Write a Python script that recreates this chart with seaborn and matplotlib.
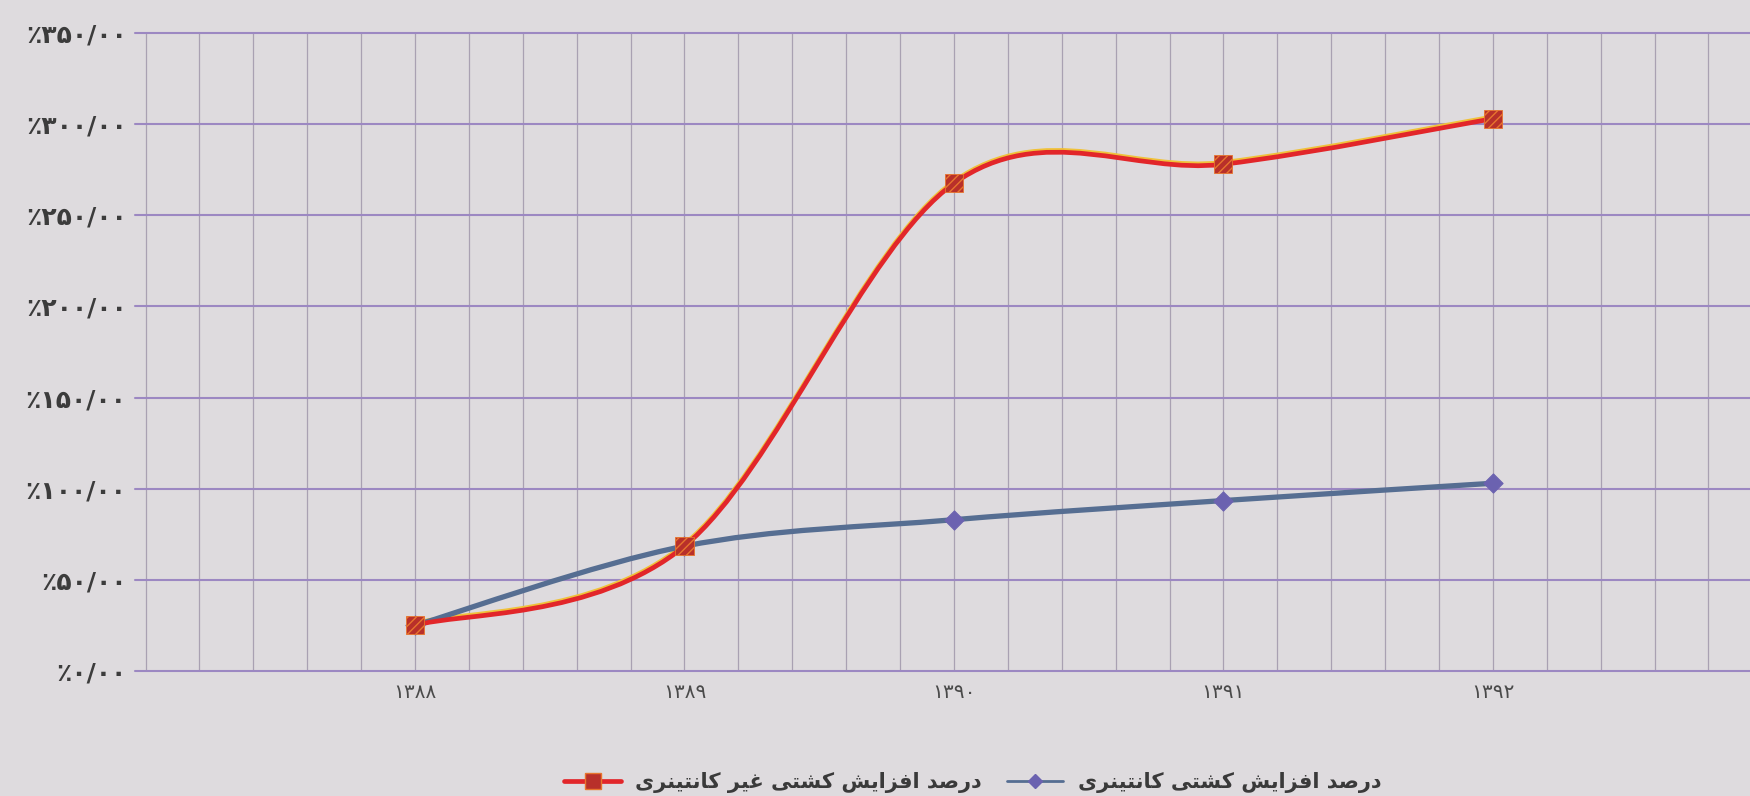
import numpy as np
import pandas as pd
import matplotlib
matplotlib.use("Agg")
import matplotlib.pyplot as plt
import seaborn as sns
from matplotlib.path import Path
from matplotlib.patches import PathPatch
from matplotlib.lines import Line2D
from matplotlib.transforms import ScaledTranslation

# ---------------- data ----------------
years = [1388, 1389, 1390, 1391, 1392]
x_tick_labels = ["۱۳۸۸", "۱۳۸۹", "۱۳۹۰", "۱۳۹۱", "۱۳۹۲"]
non_container = [25, 68.5, 267.5, 278, 303]   # red series
container = [25, 68.5, 83, 93.5, 103]          # blue series
y_ticks = [0, 50, 100, 150, 200, 250, 300, 350]
y_tick_labels = ["٪۰/۰۰", "٪۵۰/۰۰", "٪۱۰۰/۰۰", "٪۱۵۰/۰۰",
                 "٪۲۰۰/۰۰", "٪۲۵۰/۰۰", "٪۳۰۰/۰۰", "٪۳۵۰/۰۰"]
label_non_container = "درصد افزایش کشتی غیر کانتینری"
label_container = "درصد افزایش کشتی کانتینری"

# -------- simple Persian shaping (matplotlib has no complex text layout) --------
FORMS = {  # isolated, final, initial, medial
    'ا': ('\uFE8D', '\uFE8E', None, None),
    'د': ('\uFEA9', '\uFEAA', None, None),
    'ر': ('\uFEAD', '\uFEAE', None, None),
    'ز': ('\uFEAF', '\uFEB0', None, None),
    'ص': ('\uFEB9', '\uFEBA', '\uFEBB', '\uFEBC'),
    'ف': ('\uFED1', '\uFED2', '\uFED3', '\uFED4'),
    'ی': ('\uFBFC', '\uFBFD', '\uFBFE', '\uFBFF'),
    'ش': ('\uFEB5', '\uFEB6', '\uFEB7', '\uFEB8'),
    'ک': ('\uFB8E', '\uFB8F', '\uFB90', '\uFB91'),
    'ت': ('\uFE95', '\uFE96', '\uFE97', '\uFE98'),
    'ن': ('\uFEE5', '\uFEE6', '\uFEE7', '\uFEE8'),
    'غ': ('\uFECD', '\uFECE', '\uFECF', '\uFED0'),
}


def shape(text):
    out = []
    for i, ch in enumerate(text):
        f = FORMS.get(ch)
        if f is None:
            out.append(ch)
            continue
        prev = text[i - 1] if i > 0 else ''
        nxt = text[i + 1] if i + 1 < len(text) else ''
        jp = prev in FORMS and FORMS[prev][2] is not None
        jn = f[2] is not None and nxt in FORMS
        if jp and jn:
            out.append(f[3])
        elif jp:
            out.append(f[1])
        elif jn:
            out.append(f[2])
        else:
            out.append(f[0])
    return ''.join(reversed(out))


def smooth_path(xs, ys):
    pts = list(zip(xs, ys))
    n = len(pts)
    verts = [pts[0]]
    codes = [Path.MOVETO]
    for i in range(n - 1):
        p0 = pts[i - 1] if i > 0 else pts[i]
        p1 = pts[i]
        p2 = pts[i + 1]
        p3 = pts[i + 2] if i + 2 < n else pts[i + 1]
        c1 = (p1[0] + (p2[0] - p0[0]) / 6, p1[1] + (p2[1] - p0[1]) / 6)
        c2 = (p2[0] - (p3[0] - p1[0]) / 6, p2[1] - (p3[1] - p1[1]) / 6)
        verts += [c1, c2, p2]
        codes += [Path.CURVE4] * 3
    return Path(verts, codes)


# ---------------- style ----------------
sns.set_theme(style="white")
plt.rcParams['font.family'] = ['DejaVu Sans']
BG = '#dedbde'
RED = '#e2262a'
RED_FACE = '#b8302a'
RED_HATCH = '#e8752e'
BLUE = '#566e92'
DIAMOND = '#6b62b0'
HGRID = '#9c88c2'
VGRID = '#a9a1b2'

fig = plt.figure(figsize=(17.5, 7.96), dpi=100, facecolor=BG)
ax = fig.add_axes([135 / 1750, 1 - 671 / 796, 1 - 135 / 1750, (671 - 33) / 796])
ax.set_facecolor(BG)

df_red = pd.DataFrame({'year': years, 'value': non_container})
df_blue = pd.DataFrame({'year': years, 'value': container})

# smooth lines
shift_up = ax.transData + ScaledTranslation(0, 1.3 / 72, fig.dpi_scale_trans)
ax.add_patch(PathPatch(smooth_path(years, non_container), fill=False,
                       edgecolor='#f0c23a', lw=3.4, transform=shift_up, zorder=3))
ax.add_patch(PathPatch(smooth_path(years, non_container), fill=False,
                       edgecolor=RED, lw=3.4, zorder=4))
ax.add_patch(PathPatch(smooth_path(years, container), fill=False,
                       edgecolor=BLUE, lw=3.8, zorder=3.5))

# markers
sns.scatterplot(data=df_blue, x='year', y='value', marker='D', s=95,
                color=DIAMOND, edgecolor=DIAMOND, linewidth=0.8, zorder=5, ax=ax)
sns.scatterplot(data=df_red, x='year', y='value', marker='s', s=170,
                color=RED_FACE, edgecolor=RED_HATCH, hatch='////', linewidth=0.6,
                zorder=6, ax=ax)

# axes & grid
ax.set_xlim(1386.961, 1392.954)
ax.set_ylim(0, 350)
ax.set_xticks(years)
ax.set_xticklabels(x_tick_labels, fontsize=14.5, color='#4a4a4a')
ax.set_xticks(np.round(np.arange(1387, 1393, 0.2), 2), minor=True)
ax.set_yticks(y_ticks)
ax.set_yticklabels(y_tick_labels, fontsize=18, fontweight='bold', color='#3c3c3c')
ax.grid(axis='y', which='major', color=HGRID, lw=1.5)
ax.grid(axis='x', which='both', color=VGRID, lw=0.9)
for gl in ax.yaxis.get_gridlines():
    gl.set_clip_on(False)
ax.set_axisbelow(True)
ax.tick_params(axis='both', which='both', length=0)
ax.tick_params(axis='y', pad=6)
ax.tick_params(axis='x', pad=9)
ax.set_xlabel('')
ax.set_ylabel('')
for s in ax.spines.values():
    s.set_visible(False)

# legend (visual order: red item left, blue item right)
h_red = Line2D([], [], color=RED, lw=3.4, marker='s', markersize=11,
               markerfacecolor=RED_FACE, markeredgecolor=RED_HATCH)
h_blue = Line2D([], [], color=BLUE, lw=2.0, marker='D', markersize=7,
                markerfacecolor=DIAMOND, markeredgecolor=DIAMOND)
leg = fig.legend([h_red, h_blue], [shape(label_non_container), shape(label_container)],
                 loc='center', bbox_to_anchor=(0.556, 0.017), ncol=2, frameon=False,
                 prop={'size': 15, 'weight': 'bold'}, handlelength=2.7,
                 handletextpad=0.7, columnspacing=1.2, labelcolor='#3a3a3a')

fig.savefig('out.png', dpi=100, facecolor=BG)
